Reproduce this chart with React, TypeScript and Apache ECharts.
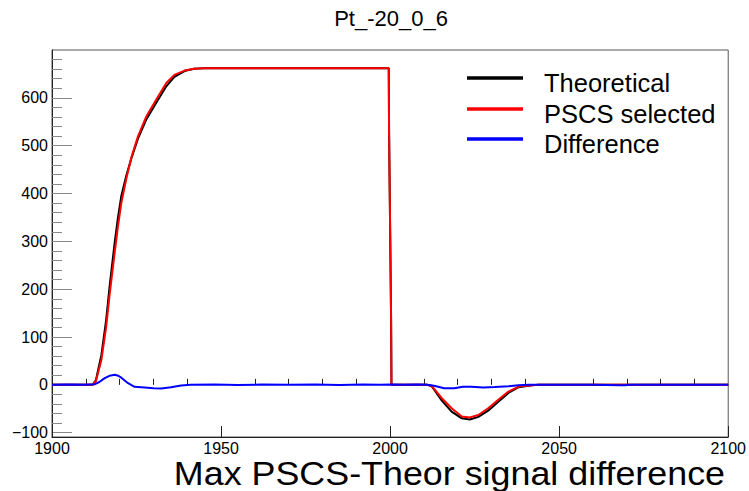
import React, { useEffect, useRef } from "react";
import * as echarts from "echarts";

// ---- data ----
const chartTitle = "Pt_-20_0_6";
const xAxisTitle = "Max PSCS-Theor signal difference";
const seriesNames = ["Theoretical", "PSCS selected", "Difference"];

const xCurve = [
  1900, 1912, 1913, 1914.6, 1916, 1917.1, 1918.6, 1919.5, 1920.5, 1922, 1923.5,
  1925.4, 1927.9, 1930.8, 1933.8, 1936.2, 1939.2, 1942, 1945, 1999.6, 1999.7,
  1999.9, 2000.1, 2000.3, 2000.4, 2011, 2012.3, 2015.3, 2018.2, 2021.2, 2023.6,
  2026.1, 2029, 2032, 2035, 2038, 2042, 2044, 2100,
];
const selectedY = [
  0, 0, 8, 52, 120, 192, 280, 331, 380, 432, 476, 519, 561, 596, 631, 648, 657,
  661, 662, 662, 527, 397, 266, 132, 0, 0, -2, -28, -49, -66, -68, -63, -49,
  -31, -14, -3.5, -1, 0, 0,
];
const theoreticalY = [
  0, 0, 10, 62, 135, 210, 301, 349, 395, 438, 474, 514, 555, 589, 624, 644,
  656, 661, 662, 662, 527, 397, 266, 132, 0, 0, -3, -33, -56, -70, -72.5, -67,
  -54, -35.5, -17, -5, -1, 0, 0,
];

const xDiff = [
  1900, 1905, 1910, 1912.7, 1914, 1915.6, 1917, 1918.6, 1919.6, 1920.5, 1921.5,
  1922.5, 1924.4, 1927.4, 1930, 1932.3, 1935.2, 1938.2, 1941, 1948, 1955, 1962,
  1970, 1978, 1985, 1992, 1997, 2000, 2004, 2008, 2011, 2013, 2016, 2019,
  2021.5, 2024, 2027.5, 2031, 2035, 2038, 2041, 2050, 2060, 2068, 2069.5, 2071,
  2080, 2090, 2100,
];
const diffY = [
  0, 0.5, 0, 1.5, 6, 14, 19, 21, 19, 15, 9, 3.5, -4, -5.5, -7, -7.5, -5, -1.5,
  0, 0.5, -0.3, 0.6, 0, 0.8, -0.3, 0.5, 0, 0.5, 0, 1, 0, -2, -7, -7, -4, -4,
  -5.5, -4.5, -3, -1, 0, 0, 0.3, -0.8, -0.8, 0, 0.3, 0, 0,
];

const yMajorTicks = [-100, 0, 100, 200, 300, 400, 500, 600];
const yMinorTicks = [
  -100, -80, -60, -40, -20, 0, 20, 40, 60, 80, 100, 120, 140, 160, 180, 200,
  220, 240, 260, 280, 300, 320, 340, 360, 380, 400, 420, 440, 460, 480, 500,
  520, 540, 560, 580, 600, 620, 640, 660, 680,
];
const xMajorTicks = [1900, 1950, 2000, 2050, 2100];
const xMinorTicks = [
  1910, 1920, 1930, 1940, 1960, 1970, 1980, 1990, 2010, 2020, 2030, 2040, 2060,
  2070, 2080, 2090,
];

const seriesColors = ["#000000", "#ff0000", "#0000ff"];

const FONT = "Liberation Sans, Arial, Helvetica, sans-serif";
const X_MIN = 1900;
const X_MAX = 2100;
const Y_MIN = -109;
const Y_MAX = 700;

export default function App() {
  const ref = useRef<HTMLDivElement>(null);

  useEffect(() => {
    if (!ref.current) return;
    const chart = echarts.init(ref.current, null, { renderer: "svg" });

    const pairs = (xs: number[], ys: number[]) => xs.map((x, i) => [x, ys[i]]);
    const curves = [
      pairs(xCurve, theoreticalY),
      pairs(xCurve, selectedY),
      pairs(xDiff, diffY),
    ];

    const legendTop = [78, 109, 139];
    const tickLabel = (v: number) => (v < 0 ? "\u2212" + Math.abs(v) : String(v));

    chart.setOption({
      animation: false,
      backgroundColor: "#ffffff",
      textStyle: { fontFamily: FONT },
      grid: {
        left: 52,
        right: 17,
        top: 50,
        bottom: 54,
        show: true,
        borderColor: "#555",
        borderWidth: 1,
        containLabel: false,
      },
      xAxis: [
        {
          type: "value",
          min: X_MIN,
          max: X_MAX,
          axisLine: { show: true, onZero: false, lineStyle: { color: "#222", width: 1 } },
          axisTick: {
            show: true,
            inside: true,
            length: 11,
            customValues: xMajorTicks,
            lineStyle: { color: "#222" },
          },
          splitLine: { show: false },
          axisLabel: {
            color: "#000",
            fontSize: 16,
            fontFamily: FONT,
            margin: 3,
            customValues: xMajorTicks,
            formatter: tickLabel,
          },
        },
        {
          type: "value",
          min: X_MIN,
          max: X_MAX,
          position: "bottom",
          offset: 0,
          axisLine: { show: false },
          axisTick: {
            show: true,
            inside: true,
            length: 6,
            customValues: xMinorTicks,
            lineStyle: { color: "#222" },
          },
          axisLabel: { show: false, customValues: xMinorTicks },
          splitLine: { show: false },
        },
      ],
      yAxis: [
        {
          type: "value",
          min: Y_MIN,
          max: Y_MAX,
          position: "left",
          axisLine: { show: true, onZero: false, lineStyle: { color: "#222", width: 1 } },
          axisTick: {
            show: true,
            inside: true,
            length: 20,
            customValues: yMajorTicks,
            lineStyle: { color: "#888" },
          },
          axisLabel: {
            color: "#000",
            fontSize: 16,
            fontFamily: FONT,
            margin: 4,
            customValues: yMajorTicks,
            formatter: tickLabel,
          },
          splitLine: { show: false },
        },
        {
          type: "value",
          min: Y_MIN,
          max: Y_MAX,
          position: "left",
          offset: 0,
          axisLine: { show: false },
          axisTick: {
            show: true,
            inside: true,
            length: 10,
            customValues: yMinorTicks,
            lineStyle: { color: "#888" },
          },
          axisLabel: { show: false, customValues: yMinorTicks },
          splitLine: { show: false },
        },
      ],
      series: curves.map((d, i) => ({
        name: seriesNames[i],
        type: "line",
        data: d,
        xAxisIndex: 0,
        yAxisIndex: 0,
        showSymbol: false,
        symbol: "none",
        lineStyle: { color: seriesColors[i], width: 2 },
        itemStyle: { color: seriesColors[i] },
        z: 2 + i,
      })),
      graphic: [
        {
          type: "text",
          x: 391,
          y: 18,
          style: {
            text: chartTitle,
            fontSize: 22,
            fontFamily: FONT,
            fill: "#000",
            align: "center",
            verticalAlign: "middle",
          },
        },
        {
          type: "text",
          x: 725,
          y: 473,
          scaleX: 1.07,
          style: {
            text: xAxisTitle,
            fontSize: 33.5,
            fontFamily: FONT,
            fill: "#000",
            align: "right",
            verticalAlign: "middle",
          },
        },
        ...seriesNames.flatMap((name, i) => [
          {
            type: "line",
            shape: { x1: 467, y1: legendTop[i], x2: 523, y2: legendTop[i] },
            style: { stroke: seriesColors[i], lineWidth: 3.3 },
          },
          {
            type: "text",
            x: 544,
            y: legendTop[i] + 5,
            style: {
              text: name,
              fontSize: 25.5,
              fontFamily: FONT,
              fill: "#000",
              align: "left",
              verticalAlign: "middle",
            },
          },
        ]),
      ],
    });

    return () => chart.dispose();
  }, []);

  return (
    <div
      ref={ref}
      style={{ position: "fixed", left: 0, top: 0, width: 749, height: 491, background: "#fff" }}
    />
  );
}
